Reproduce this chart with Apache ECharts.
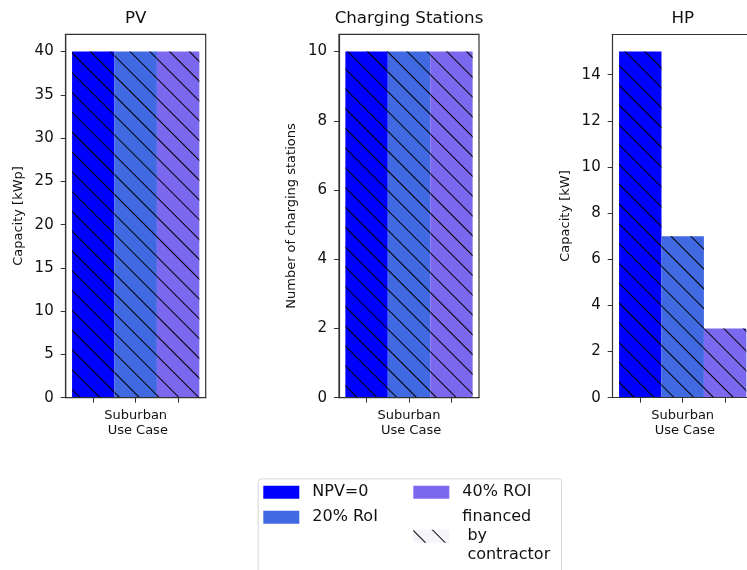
<!DOCTYPE html>
<html>
<head>
<meta charset="utf-8">
<style>
  html, body { margin: 0; padding: 0; background: #fff; }
  #chart { width: 747px; height: 570px; }
</style>
<script src="https://cdn.jsdelivr.net/npm/echarts@6/dist/echarts.min.js"></script>
</head>
<body>
<div id="chart"></div>
<script>
// ---- data ----
const scenarios = ['NPV=0', '20% RoI', '40% ROI'];
const scenarioColors = ['#0000ff', '#4169e1', '#7b68ee'];
const financedLabel = 'financed\n by\n contractor';
const panelTitles = ['PV', 'Charging Stations', 'HP'];
const yAxisNames = ['Capacity [kWp]', 'Number of charging stations', 'Capacity [kW]'];
const categoryLabel = 'Suburban\n Use Case';
const xPositions = [0, 1, 2];          // one bar slot per scenario
const pvValues = [40, 40, 40];
const csValues = [10, 10, 10];
const hpValues = [15, 7, 3];
const pvTicks = [0, 5, 10, 15, 20, 25, 30, 35, 40];
const csTicks = [0, 2, 4, 6, 8, 10];
const hpTicks = [0, 2, 4, 6, 8, 10, 12, 14];

const panelValues = [pvValues, csValues, hpValues];
const panelTicks = [pvTicks, csTicks, hpTicks];

// ---- layout / style ----
const FONT = 'DejaVu Sans';
const PAGE_W = 747;
const gridLefts = [65.7, 339, 612.7];
const gridTop = 34.3, gridW = 140, gridH = 363.4;
const xMin = -0.65, xMax = 2.65;
const frameColor = '#333';
const hatch = {
  symbol: 'rect', symbolSize: 1, color: '#000',
  dashArrayX: [10, 0], dashArrayY: [1, 13], rotation: Math.PI / 4
};

const grids = [], xAxes = [], yAxes = [], titles = [], series = [];
panelTitles.forEach((t, i) => {
  const last = i === panelTitles.length - 1;
  // the last panel runs past the right edge of the picture: keep the same scale, show only the visible part
  const visW = last ? PAGE_W - gridLefts[i] : gridW;
  const thisXMax = last ? xMin + (xMax - xMin) * visW / gridW : xMax;
  grids.push({ left: gridLefts[i], top: gridTop, width: visW, height: gridH,
    show: !last, borderColor: frameColor, borderWidth: 1.2, backgroundColor: 'transparent' });
  titles.push({ text: t, left: gridLefts[i] + gridW / 2, top: 10, textAlign: 'center', padding: 0,
    textStyle: { fontFamily: FONT, fontSize: 16.7, fontWeight: 'normal', color: '#111' } });
  xAxes.push({ gridIndex: i, type: 'value', min: xMin, max: thisXMax, z: 3,
    axisLine: { show: true, onZero: false, lineStyle: { color: frameColor, width: 1.2 } },
    axisTick: { show: true, customValues: xPositions, length: 5, lineStyle: { color: frameColor, width: 1 } },
    axisLabel: { customValues: [xPositions[1]], formatter: () => categoryLabel, margin: 11,
      fontFamily: FONT, fontSize: 13, lineHeight: 14.5, color: '#111' },
    splitLine: { show: false } });
  if (last) {
    // top spine of the cut-off panel
    xAxes.push({ gridIndex: i, type: 'value', position: 'top', min: xMin, max: thisXMax, z: 3,
      axisLine: { show: true, onZero: false, lineStyle: { color: frameColor, width: 1.2 } },
      axisTick: { show: false }, axisLabel: { show: false }, splitLine: { show: false } });
  }
  const ticks = panelTicks[i];
  const maxVal = Math.max(...panelValues[i]);
  yAxes.push({ gridIndex: i, type: 'value', min: 0, max: maxVal * 1.05, z: 3,
    name: yAxisNames[i], nameLocation: 'middle', nameGap: 41,
    nameTextStyle: { fontFamily: FONT, fontSize: 13, color: '#111' },
    axisLine: { show: true, onZero: false, lineStyle: { color: frameColor, width: 1.2 } },
    axisTick: { show: true, customValues: ticks, length: 5, lineStyle: { color: frameColor, width: 1 } },
    axisLabel: { customValues: ticks, margin: 12, fontFamily: FONT, fontSize: 15, color: '#111' },
    splitLine: { show: false } });
});

// bar series (x axis index for each grid: 0, 1, 2 — extra top axis comes after)
const xAxisIdxForGrid = [0, 1, 2];
panelTitles.forEach((t, i) => {
  scenarios.forEach((s, k) => {
    series.push({ type: 'bar', name: s, xAxisIndex: xAxisIdxForGrid[i], yAxisIndex: i,
      barWidth: '100%', barGap: '-100%',
      itemStyle: { color: scenarioColors[k] },
      data: [{ value: [xPositions[k], panelValues[i][k]], itemStyle: { decal: hatch } }] });
  });
});
// legend-only entry for the hatch meaning
series.push({ type: 'bar', name: financedLabel, xAxisIndex: 0, yAxisIndex: 0,
  barWidth: '100%', barGap: '-100%',
  itemStyle: { color: '#f4f4fb', decal: hatch }, data: [] });

const legendCommon = { orient: 'vertical', top: 482.8, height: 200, padding: 0, itemWidth: 36, itemHeight: 13,
  itemGap: 6, icon: 'rect', selectedMode: false,
  textStyle: { fontFamily: FONT, fontSize: 16, lineHeight: 19, color: '#111', padding: [0, 0, 0, 8] } };

const option = {
  animation: false,
  backgroundColor: '#fff',
  title: titles,
  grid: grids,
  xAxis: xAxes,
  yAxis: yAxes,
  legend: [
    Object.assign({}, legendCommon, { left: 263.3, data: [scenarios[0], scenarios[1]] }),
    Object.assign({}, legendCommon, { left: 413.3, data: [scenarios[2], financedLabel] })
  ],
  graphic: [{ type: 'rect', left: 257.7, top: 478.3, z: -1,
    shape: { width: 303.3, height: 110, r: 3 },
    style: { fill: '#fff', stroke: '#d6d6d6', lineWidth: 1 } }],
  series: series
};
const chart = echarts.init(document.getElementById('chart'), null, { renderer: 'canvas' });
chart.setOption(option);
</script>
</body>
</html>
